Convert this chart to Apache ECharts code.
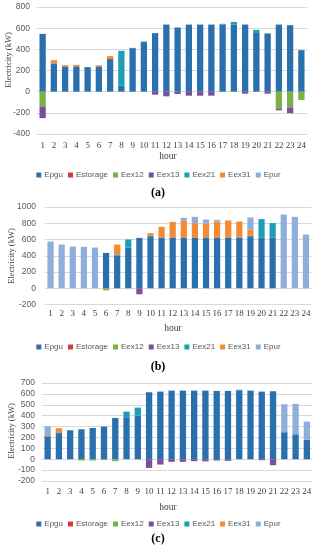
<!DOCTYPE html>
<html><head><meta charset="utf-8">
<script src="https://cdn.jsdelivr.net/npm/echarts@6/dist/echarts.min.js"></script>
<style>html,body{margin:0;padding:0;background:#fff}#c{width:317px;height:550px}</style>
</head><body><div id="c"></div>
<script>
const hours = ['1','2','3','4','5','6','7','8','9','10','11','12','13','14','15','16','17','18','19','20','21','22','23','24'];
const seriesNames = ['Epgu','Estorage','Eex12','Eex13','Eex21','Eex31','Epur'];
const panelLabels = ['(a)','(b)','(c)'];

// panel (a)
const a_Epgu     = [546,267,239,239,232,239,308,56,411,468,553,634,606,634,634,634,634,634,634,562,550,634,628,392];
const a_Estorage = [0,0,0,0,0,0,0,0,0,0,0,0,0,0,0,0,0,0,0,0,0,0,0,0];
const a_Eex12    = [-140,0,0,0,0,0,0,0,0,0,0,0,0,0,0,0,0,0,0,0,0,-163,-148,-78];
const a_Eex13    = [-110,0,0,0,0,0,0,0,0,0,-28,-44,-22,-38,-38,-38,0,0,-19,0,-19,-13,-56,0];
const a_Eex21    = [0,0,0,0,0,0,0,330,3,6,0,0,0,0,0,0,7,25,0,22,0,0,0,0];
const a_Eex31    = [0,31,12,15,0,10,28,0,0,0,0,0,0,0,0,0,0,0,0,0,0,0,0,0];
const a_Epur     = [0,0,0,0,0,0,0,0,0,0,0,0,0,0,0,0,0,0,0,0,0,0,0,0];

// panel (b)
const b_Epgu     = [0,0,0,0,0,435,405,501,620,630,624,625,625,625,625,625,625,625,630,625,625,0,0,0];
const b_Estorage = [0,0,0,0,0,0,0,0,0,0,0,0,0,0,0,0,0,0,0,0,0,0,0,0];
const b_Eex12    = [0,0,0,0,0,-25,0,0,0,0,0,0,0,0,0,0,0,0,0,0,0,0,0,0];
const b_Eex13    = [0,0,0,0,0,0,0,0,-74,0,0,0,0,0,0,0,0,0,0,0,0,0,0,0];
const b_Eex21    = [0,0,0,0,0,0,10,99,0,15,0,0,0,0,0,0,0,0,15,226,177,0,0,0];
const b_Eex31    = [0,0,0,0,0,0,123,0,0,33,132,192,205,176,172,196,209,196,77,0,0,0,0,0];
const b_Epur     = [575,538,513,509,501,0,0,0,0,0,0,0,37,78,49,21,0,0,149,0,0,907,879,661];

// panel (c)
const c_Epgu     = [210,240,260,275,287,300,379,385,400,615,621,630,630,630,630,627,627,633,630,621,624,248,229,177];
const c_Estorage = [0,0,0,0,0,0,0,0,0,0,0,0,0,0,0,0,0,0,0,0,0,0,0,0];
const c_Eex12    = [0,0,0,-12,-12,-8,-18,0,0,0,0,0,0,0,0,0,0,0,0,0,0,0,0,0];
const c_Eex13    = [0,0,0,0,0,0,0,0,0,-80,-49,-24,-24,-18,-20,-12,-15,0,0,-9,-55,0,0,0];
const c_Eex21    = [0,0,8,0,0,0,0,52,74,0,0,0,0,0,0,0,0,5,0,0,0,0,0,0];
const c_Eex31    = [12,45,0,0,0,0,0,0,0,0,0,0,0,0,0,0,0,0,0,0,0,0,0,0];
const c_Epur     = [81,0,0,0,0,0,0,0,0,0,0,0,0,0,0,0,0,0,0,0,0,257,279,169];

const yMin = [-400,-200,-200];
const yMax = [800,1000,700];
const yStep = [200,200,100];

const panels = [
  [a_Epgu,a_Estorage,a_Eex12,a_Eex13,a_Eex21,a_Eex31,a_Epur],
  [b_Epgu,b_Estorage,b_Eex12,b_Eex13,b_Eex21,b_Eex31,b_Epur],
  [c_Epgu,c_Estorage,c_Eex12,c_Eex13,c_Eex21,c_Eex31,c_Epur]
];
const colors = ['#2a6fae','#d9363e','#7bb045','#7a4f9c','#1a9fb6','#f58a32','#8eaedb'];

// layout
const grids = [
  {left:37, top:7,   width:270,   height:127},
  {left:45, top:207, width:266.5, height:97.5},
  {left:42, top:383, width:270.5, height:98}
];
const labelMarginX = [7,5,6];
const labelMarginY = [7,9,7];
const legendTops = [166,338,515];
const hourPos = [[168,156],[173,328],[168,507]];
const yNamePos = [[9,60],[12,256],[12,431]];
const titlePos = [[158,193],[158,367],[158,539]];

const sansFont = 'Liberation Sans';
const serifFont = 'Liberation Serif';

const option = {
  animation:false,
  grid: grids,
  xAxis: grids.map((g,i)=>({
    type:'category', gridIndex:i, data:hours, position:'bottom',
    axisLine:{show:false}, axisTick:{show:false},
    axisLabel:{margin:labelMarginX[i], fontFamily:serifFont, fontSize:9, color:'#404040', interval:0}
  })),
  yAxis: grids.map((g,i)=>({
    type:'value', gridIndex:i, min:yMin[i], max:yMax[i], interval:yStep[i],
    axisLine:{show:false}, axisTick:{show:false},
    axisLabel:{margin:labelMarginY[i], fontFamily:sansFont, fontSize:8.5, color:'#595959',
      formatter:v=>String(v)},
    splitLine:{lineStyle:{color:'#d9d9d9', width:1}}
  })),
  legend: legendTops.map(t=>({
    data:seriesNames, top:t, left:'center', itemWidth:5, itemHeight:5, itemGap:5,
    icon:'rect', textStyle:{fontFamily:sansFont, fontSize:8, color:'#595959', padding:[0,0,0,-2]},
    selectedMode:false
  })),
  series: [],
  graphic: []
};

panels.forEach((arrs,p)=>{
  arrs.forEach((d,k)=>{
    option.series.push({
      type:'bar', name:seriesNames[k], xAxisIndex:p, yAxisIndex:p, stack:'s'+p,
      data:d, barWidth:'56%', itemStyle:{color:colors[k]}
    });
  });
  option.graphic.push({type:'text', x:hourPos[p][0], y:hourPos[p][1],
    style:{text:'hour', align:'center', verticalAlign:'middle', fontFamily:serifFont, fontSize:9.5, fill:'#404040'}});
  option.graphic.push({type:'text', x:yNamePos[p][0], y:yNamePos[p][1], rotation:Math.PI/2,
    style:{text:'Electricity (kW)', align:'center', verticalAlign:'middle', fontFamily:serifFont, fontSize:8.5, fill:'#404040'}});
  option.graphic.push({type:'text', x:titlePos[p][0], y:titlePos[p][1],
    style:{text:panelLabels[p], align:'center', verticalAlign:'middle', fontFamily:serifFont, fontSize:12, fontWeight:'bold', fill:'#000'}});
});

const chart = echarts.init(document.getElementById('c'), null, {renderer:'canvas'});
chart.setOption(option);
</script>
</body></html>
